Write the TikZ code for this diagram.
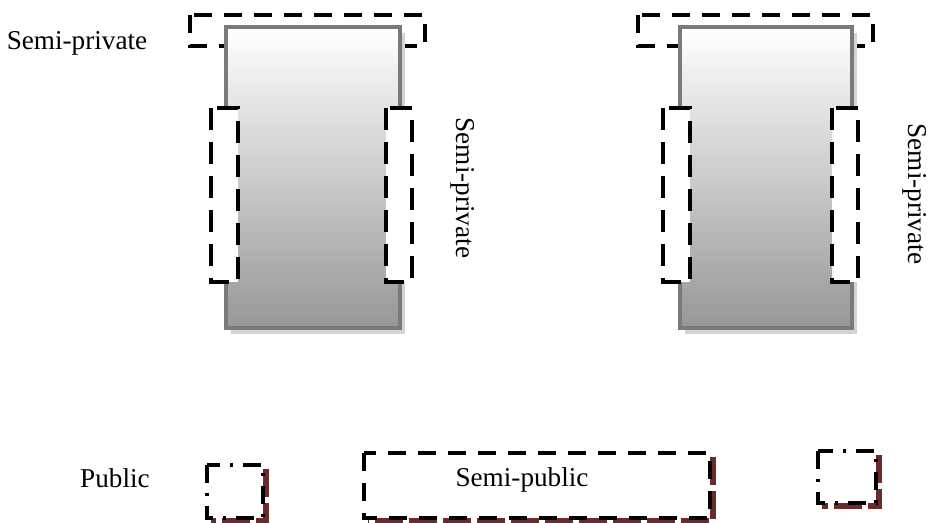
\documentclass[tikz,border=0pt]{standalone}
\usepackage{fontspec}
\setmainfont{Liberation Serif}
\usepackage{tikz}
\usetikzlibrary{calc}
\usepackage{xcolor}

\definecolor{wallgray}{HTML}{7A7A7A}
\definecolor{shadegray}{HTML}{D4D4D4}
\definecolor{floorgray}{HTML}{979797}
\definecolor{rustred}{HTML}{6B2B2B}

\tikzset{
  zone/.style={line width=2.4pt, dash pattern=on 9pt off 6pt},
  sidezone/.style={zone, fill=white, dash pattern=on 11pt off 6pt},
  spot/.style={line width=2.2pt, dash pattern=on 9pt off 5pt on 1.5pt off 5pt},
  rim/.style={line width=3pt, rustred, dash pattern=on 14pt off 3pt},
  block/.style={draw=wallgray, line width=2pt, top color=white, bottom color=floorgray},
  tag/.style={font=\fontsize{13.6}{15}\selectfont}
}

\begin{document}
\begin{tikzpicture}[x=0.5pt, y=-0.5pt, line cap=butt, line join=miter]
  \useasboundingbox (0,0) rectangle (928,523);

  % Semi-private strips on the roofs
  \draw[zone] (190,15) rectangle (425,46);
  \draw[zone] (638,15) rectangle (873,46);

  % Buildings, with a soft shadow
  \fill[shadegray] (231,33) rectangle (405,334);
  \fill[shadegray] (685,33) rectangle (857,334);
  \draw[block] (226,27) rectangle (400,328);
  \draw[block] (680,27) rectangle (852,328);

  % Side strips
  \draw[sidezone] (211,108) rectangle (238,282);
  \draw[sidezone] (386,108) rectangle (412,282);
  \draw[sidezone] (663,108) rectangle (690,282);
  \draw[sidezone] (832,108) rectangle (858,282);

  % Ground-level spots
  \draw[rim] (266,469) -- (266,521) -- (211,521);
  \draw[spot] (207,465) rectangle (263,518);
  \draw[rim] (713,457) -- (713,521) -- (368,521);
  \draw[zone] (364,453) rectangle (710,518);
  \draw[rim] (879,455) -- (879,506) -- (822,506);
  \draw[spot] (818,451) rectangle (876,503);

  % Labels
  \node[tag] (roofA) at (77,43) {Semi-private};
  \node[tag, rotate=-90] (sideA) at (463,188) {Semi-private};
  \node[tag, rotate=-90] (sideB) at (915,194) {Semi-private};
  \node[tag] (pub) at (115,478) {Public};
  \node[tag] (semipub) at (522,480) {Semi-public};
\end{tikzpicture}
\end{document}
